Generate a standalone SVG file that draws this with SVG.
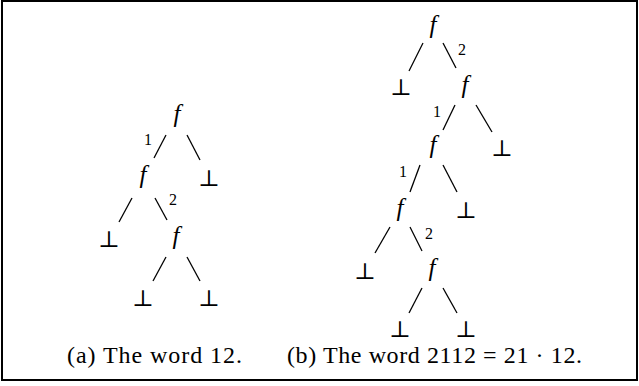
<svg xmlns="http://www.w3.org/2000/svg" width="639" height="386" viewBox="0 0 639 386">
<style>
.f{font-family:'Liberation Serif',serif;font-style:italic;font-size:25px;text-anchor:middle;fill:#000}
.l{font-family:'Liberation Serif',serif;font-size:16px;text-anchor:middle;fill:#000}
.b{font-family:'DejaVu Serif','DejaVu Sans',serif;font-size:23px;text-anchor:middle;fill:#000}
.c{font-family:'Liberation Serif',serif;font-size:24px;fill:#000}
#edges line{stroke:#000;stroke-width:1.3}
</style>
<rect x="2" y="1" width="635" height="379" fill="#fff" stroke="#000" stroke-width="2"/>
<g id="edges">
<line x1="166" y1="135" x2="154" y2="158"/>
<line x1="187" y1="135" x2="200" y2="160"/>
<line x1="132" y1="198" x2="119" y2="222"/>
<line x1="155" y1="198" x2="167" y2="220"/>
<line x1="166" y1="257" x2="153" y2="281"/>
<line x1="187" y1="257" x2="200" y2="281"/>
<line x1="423" y1="43" x2="409" y2="71"/>
<line x1="443" y1="43" x2="456" y2="68"/>
<line x1="455" y1="105" x2="443" y2="130"/>
<line x1="476" y1="105" x2="492" y2="132"/>
<line x1="420" y1="165" x2="410" y2="192"/>
<line x1="443" y1="165" x2="457" y2="192"/>
<line x1="390" y1="227" x2="375" y2="253"/>
<line x1="410" y1="227" x2="422" y2="251"/>
<line x1="422" y1="288" x2="409" y2="313"/>
<line x1="443" y1="288" x2="457" y2="313"/>
</g>
<g id="a-f1"><text class="f" x="177" y="122">f</text></g>
<g id="a-lab1"><text class="l" x="148" y="145">1</text></g>
<g id="a-f2"><text class="f" x="143" y="183">f</text></g>
<g id="a-lab2"><text class="l" x="173" y="205">2</text></g>
<g id="a-f3"><text class="f" x="176" y="244">f</text></g>
<g id="a-bot1"><text class="b" x="209" y="185.5">&#x22A5;</text></g>
<g id="a-bot2"><text class="b" x="109" y="246.5">&#x22A5;</text></g>
<g id="a-bot3"><text class="b" x="143" y="305.5">&#x22A5;</text></g>
<g id="a-bot4"><text class="b" x="209" y="305.5">&#x22A5;</text></g>
<g id="b-f1"><text class="f" x="433" y="33">f</text></g>
<g id="b-lab1"><text class="l" x="462" y="55">2</text></g>
<g id="b-f2"><text class="f" x="465" y="93">f</text></g>
<g id="b-lab2"><text class="l" x="437" y="117">1</text></g>
<g id="b-f3"><text class="f" x="433" y="153">f</text></g>
<g id="b-lab3"><text class="l" x="403" y="177">1</text></g>
<g id="b-f4"><text class="f" x="400" y="216">f</text></g>
<g id="b-lab4"><text class="l" x="429" y="239">2</text></g>
<g id="b-f5"><text class="f" x="432" y="276">f</text></g>
<g id="b-bot1"><text class="b" x="401" y="94.5">&#x22A5;</text></g>
<g id="b-bot2"><text class="b" x="502" y="155.5">&#x22A5;</text></g>
<g id="b-bot3"><text class="b" x="466" y="217.5">&#x22A5;</text></g>
<g id="b-bot4"><text class="b" x="365" y="278.5">&#x22A5;</text></g>
<g id="b-bot5"><text class="b" x="400" y="336.5">&#x22A5;</text></g>
<g id="b-bot6"><text class="b" x="466" y="336.5">&#x22A5;</text></g>
<g id="captions">
<text class="c" x="67" y="363" textLength="175" lengthAdjust="spacing">(a) The word 12.</text>
<text class="c" x="287" y="363" textLength="295" lengthAdjust="spacing">(b) The word 2112 = 21 &#xB7; 12.</text>
</g>
</svg>
